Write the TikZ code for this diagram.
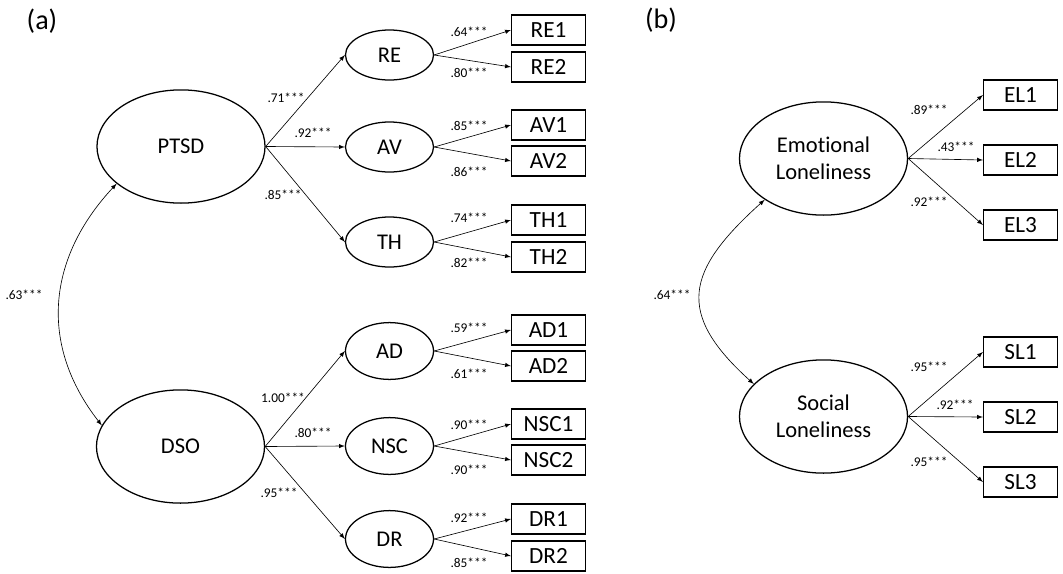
\documentclass[tikz,border=0pt]{standalone}
\usepackage{fontspec}
\setmainfont{Carlito}[Ligatures=NoCommon]
\usetikzlibrary{shapes.geometric}

\begin{document}
\begin{tikzpicture}[x=0.025cm, y=0.025cm]
	\tikzstyle{every node}+=[inner sep=0pt]
	\tikzstyle{factor}=[draw, ellipse, line width=0.9pt, minimum width=4.2cm, minimum height=2.83cm, align=center, font=\fontsize{16}{19.5}\selectfont]
	\tikzstyle{subfactor}=[draw, ellipse, line width=0.9pt, minimum width=2.2cm, minimum height=1.25cm, font=\fontsize{16}{19}\selectfont]
	\tikzstyle{item}=[draw, rectangle, line width=0.8pt, minimum width=1.85cm, minimum height=0.75cm, font=\fontsize{16.5}{19}\selectfont]
	\tikzstyle{load}=[font=\fontsize{9.5}{11}\selectfont]
	\tikzstyle{arr}=[-latex, line width=0.45pt]
	\useasboundingbox (0,0) rectangle (1063,-573);
	% panel (a)
	\node [font=\fontsize{20}{23}\selectfont] (panela) at (42,-21) {(a)};
	\node [factor] (ptsd) at (181,-146.5) {PTSD};
	\node [factor] (dso) at (180.5,-446.5) {DSO};
	\node [subfactor] (re) at (389.5,-55) {RE};
	\node [subfactor] (av) at (389.5,-147) {AV};
	\node [subfactor] (th) at (389.5,-242) {TH};
	\node [subfactor, minimum height=1.42cm] (ad) at (389.5,-351) {AD};
	\node [subfactor, minimum height=1.42cm] (nsc) at (389.5,-446) {NSC};
	\node [subfactor, minimum height=1.42cm] (dr) at (389.5,-539) {DR};
	\node [item] (re1) at (548.5,-30) {RE1};
	\node [item] (re2) at (548.5,-67) {RE2};
	\node [item] (av1) at (548.5,-125) {AV1};
	\node [item] (av2) at (548.5,-161) {AV2};
	\node [item] (th1) at (548.5,-220) {TH1};
	\node [item] (th2) at (548.5,-257) {TH2};
	\node [item] (ad1) at (548.5,-330) {AD1};
	\node [item] (ad2) at (548.5,-366) {AD2};
	\node [item] (nsc1) at (548.5,-424) {NSC1};
	\node [item] (nsc2) at (548.5,-460) {NSC2};
	\node [item] (dr1) at (548.5,-519) {DR1};
	\node [item] (dr2) at (548.5,-556) {DR2};
	\draw [arr, latex-latex] (ptsd.210) to [out=227, in=128, looseness=1.08] (dso.165);
	\node [load] (corra) at (24,-295) {.63***};
	\draw [arr] (ptsd.east) -- (re.west);
	\node [load] (lre) at (286,-98) {.71***};
	\draw [arr] (ptsd.east) -- (av.west);
	\node [load] (lav) at (313,-133) {.92***};
	\draw [arr] (ptsd.east) -- (th.west);
	\node [load] (lth) at (283,-195) {.85***};
	\draw [arr] (dso.east) -- (ad.west);
	\node [load] (lad) at (283,-398) {1.00***};
	\draw [arr] (dso.east) -- (nsc.west);
	\node [load] (lnsc) at (313,-433) {.80***};
	\draw [arr] (dso.east) -- (dr.west);
	\node [load] (ldr) at (279,-493) {.95***};
	\draw [arr] (re.east) -- (re1.west);
	\node [load] (lre1) at (469,-32) {.64***};
	\draw [arr] (re.east) -- (re2.west);
	\node [load] (lre2) at (469,-73) {.80***};
	\draw [arr] (av.east) -- (av1.west);
	\node [load] (lav1) at (469,-126) {.85***};
	\draw [arr] (av.east) -- (av2.west);
	\node [load] (lav2) at (469,-172) {.86***};
	\draw [arr] (th.east) -- (th1.west);
	\node [load] (lth1) at (469,-218) {.74***};
	\draw [arr] (th.east) -- (th2.west);
	\node [load] (lth2) at (469,-263) {.82***};
	\draw [arr] (ad.east) -- (ad1.west);
	\node [load] (lad1) at (469,-328) {.59***};
	\draw [arr] (ad.east) -- (ad2.west);
	\node [load] (lad2) at (469,-374) {.61***};
	\draw [arr] (nsc.east) -- (nsc1.west);
	\node [load] (lnsc1) at (469,-425) {.90***};
	\draw [arr] (nsc.east) -- (nsc2.west);
	\node [load] (lnsc2) at (469,-470) {.90***};
	\draw [arr] (dr.east) -- (dr1.west);
	\node [load] (ldr1) at (469,-518) {.92***};
	\draw [arr] (dr.east) -- (dr2.west);
	\node [load] (ldr2) at (469,-563) {.85***};
	% panel (b)
	\node [font=\fontsize{20}{23}\selectfont] (panelb) at (661,-20) {(b)};
	\node [factor] (emo) at (823.5,-158.5) {Emotional\\Loneliness};
	\node [factor] (soc) at (823.5,-416.5) {Social\\Loneliness};
	\node [item] (el1) at (1020.5,-95) {EL1};
	\node [item] (el2) at (1020.5,-160) {EL2};
	\node [item] (el3) at (1020.5,-225) {EL3};
	\node [item] (sl1) at (1020.5,-352) {SL1};
	\node [item] (sl2) at (1020.5,-417) {SL2};
	\node [item] (sl3) at (1020.5,-482) {SL3};
	\draw [arr, latex-latex] (emo.215) to [out=222, in=138, looseness=1.47] (soc.155);
	\node [load] (corrb) at (672,-295) {.64***};
	\draw [arr] (emo.east) -- (el1.west);
	\node [load] (lel1) at (929,-110) {.89***};
	\draw [arr] (emo.east) -- (el2.west);
	\node [load] (lel2) at (956,-147) {.43***};
	\draw [arr] (emo.east) -- (el3.west);
	\node [load] (lel3) at (929,-202) {.92***};
	\draw [arr] (soc.east) -- (sl1.west);
	\node [load] (lsl1) at (929,-367) {.95***};
	\draw [arr] (soc.east) -- (sl2.west);
	\node [load] (lsl2) at (955,-405) {.92***};
	\draw [arr] (soc.east) -- (sl3.west);
	\node [load] (lsl3) at (929,-462) {.95***};
\end{tikzpicture}
\end{document}
